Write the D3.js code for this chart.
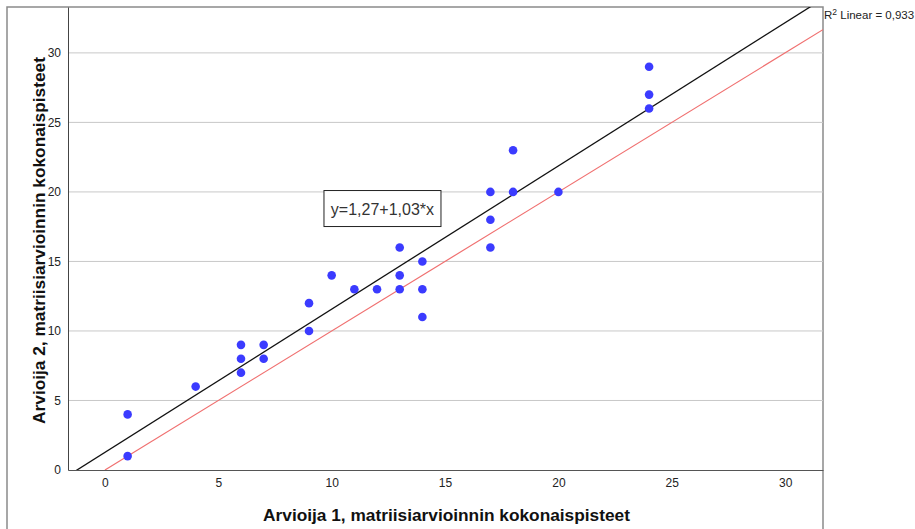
<!DOCTYPE html>
<html>
<head>
<meta charset="utf-8">
<script src="https://cdn.jsdelivr.net/npm/d3@7"></script>
<style>
body { margin: 0; background: #fff; }
svg { font-family: Arial, "Liberation Sans", sans-serif; }
</style>
</head>
<body>
<svg width="915" height="529"></svg>
<script>
// data
const arvioija1 = [1, 1, 4, 6, 6, 6, 7, 7, 9, 9, 10, 11, 12, 13, 13, 13, 14, 14, 14, 17, 17, 17, 18, 18, 20, 24, 24, 24];
const arvioija2 = [4, 1, 6, 9, 8, 7, 9, 8, 12, 10, 14, 13, 13, 16, 14, 13, 15, 13, 11, 20, 18, 16, 23, 20, 20, 29, 27, 26];
const xTicks = [0, 5, 10, 15, 20, 25, 30];
const yTicks = [0, 5, 10, 15, 20, 25, 30];
const fit = { a: 1.27, b: 1.03, r2: "0,933" };

const points = arvioija1.map((x, i) => ({ x: x, y: arvioija2[i] }));

const svg = d3.select('svg');
const PLOT = { left: 68, right: 823, top: 7, bottom: 470 };

const x = d3.scaleLinear().domain([-1.63, 31.67]).range([PLOT.left, PLOT.right]);
const y = d3.scaleLinear().domain([0, 33.3]).range([PLOT.bottom, PLOT.top]);

// outer frame
svg.append('rect')
  .attr('x', 7).attr('y', 7).attr('width', PLOT.right - 7).attr('height', 600)
  .attr('fill', 'none').attr('stroke', '#8a8a8a').attr('stroke-width', 1.5);

// grid
svg.append('g')
  .selectAll('line')
  .data(yTicks.filter(d => d > 0))
  .enter()
  .append('line')
  .attr('x1', PLOT.left).attr('x2', PLOT.right)
  .attr('y1', d => y(d)).attr('y2', d => y(d))
  .attr('stroke', '#c8c8c8');

// axes
svg.append('g')
  .attr('transform', `translate(0, ${PLOT.bottom})`)
  .call(d3.axisBottom(x).tickValues(xTicks).tickSize(0).tickPadding(8))
  .call(g => g.select('.domain').attr('stroke', '#555'))
  .call(g => g.selectAll('text').attr('font-size', 12).attr('fill', '#222').attr('font-family', 'Arial, sans-serif'));

svg.append('g')
  .attr('transform', `translate(${PLOT.left}, 0)`)
  .call(d3.axisLeft(y).tickValues(yTicks).tickSize(0).tickPadding(7))
  .call(g => g.select('.domain').attr('stroke', '#444'))
  .call(g => g.selectAll('text').attr('font-size', 12).attr('fill', '#222').attr('font-family', 'Arial, sans-serif'));

// plot clip
svg.append('clipPath').attr('id', 'plot')
  .append('rect').attr('x', PLOT.left).attr('y', PLOT.top)
  .attr('width', PLOT.right - PLOT.left).attr('height', PLOT.bottom - PLOT.top);

const lines = svg.append('g').attr('clip-path', 'url(#plot)');

// reference line y = x
lines.append('line')
  .attr('x1', x(0)).attr('y1', y(0))
  .attr('x2', x(40)).attr('y2', y(40))
  .attr('stroke', '#f07070').attr('stroke-width', 1.2);

// fit line
lines.append('line')
  .attr('x1', x(-5)).attr('y1', y(fit.a + fit.b * -5))
  .attr('x2', x(40)).attr('y2', y(fit.a + fit.b * 40))
  .attr('stroke', '#111').attr('stroke-width', 1.3);

// points
svg.append('g')
  .selectAll('circle')
  .data(points)
  .enter()
  .append('circle')
  .attr('cx', d => x(d.x))
  .attr('cy', d => y(d.y))
  .attr('r', 4.3)
  .attr('fill', '#3b3bff');

// equation box
const box = svg.append('g').attr('transform', `translate(${x(9.66)}, ${y(20.1)})`);
box.append('rect')
  .attr('width', 117).attr('height', 36)
  .attr('fill', '#fff').attr('stroke', '#222');
box.append('text')
  .attr('x', 58.5).attr('y', 24)
  .attr('text-anchor', 'middle')
  .attr('font-size', 16)
  .attr('fill', '#333')
  .text(`y=${String(fit.a).replace('.', ',')}+${String(fit.b).replace('.', ',')}*x`);

// R2 label
const r2 = svg.append('text')
  .attr('x', 824).attr('y', 19)
  .attr('font-size', 11.5)
  .attr('fill', '#222');
r2.append('tspan').text('R');
r2.append('tspan').attr('dy', -4).attr('font-size', 8.5).text('2');
r2.append('tspan').attr('dy', 4).text(' Linear = ' + fit.r2);

// axis titles
svg.append('text')
  .attr('x', (PLOT.left + PLOT.right) / 2 + 1).attr('y', 521)
  .attr('text-anchor', 'middle')
  .attr('font-size', 17.3).attr('font-weight', 'bold')
  .attr('fill', '#111')
  .text('Arvioija 1, matriisiarvioinnin kokonaispisteet');

svg.append('text')
  .attr('transform', `translate(45, ${(PLOT.top + PLOT.bottom) / 2 + 2}) rotate(-90)`)
  .attr('text-anchor', 'middle')
  .attr('font-size', 17.3).attr('font-weight', 'bold')
  .attr('fill', '#111')
  .text('Arvioija 2, matriisiarvioinnin kokonaispisteet');
</script>
</body>
</html>
